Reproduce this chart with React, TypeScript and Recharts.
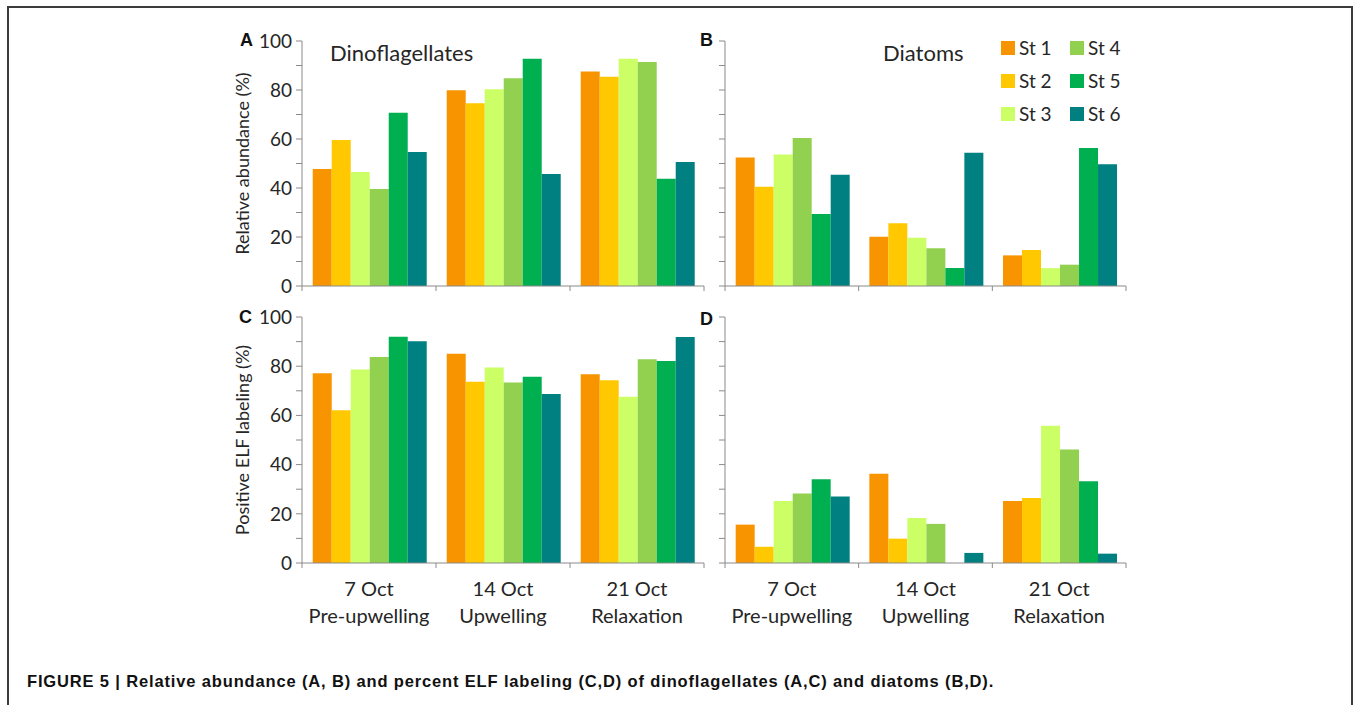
import React from "react";
import { BarChart, Bar, XAxis, YAxis, Legend, Label } from "recharts";

const DATES = ["7 Oct", "14 Oct", "21 Oct"];
const PHASES = ["Pre-upwelling", "Upwelling", "Relaxation"];
const STATIONS = ["St 1", "St 2", "St 3", "St 4", "St 5", "St 6"];
const STATION_COLORS = ["#F79400", "#FFC800", "#CCFF66", "#92D050", "#00B050", "#008080"];

// one row per date, one value per station (St 1..St 6)
const DINO_ABUNDANCE = [
  [47.8, 59.6, 46.5, 39.6, 70.7, 54.7],
  [79.9, 74.6, 80.3, 84.8, 92.8, 45.7],
  [87.6, 85.4, 92.8, 91.4, 43.8, 50.6],
];
const DIATOM_ABUNDANCE = [
  [52.5, 40.5, 53.7, 60.4, 29.4, 45.4],
  [20.1, 25.6, 19.7, 15.4, 7.3, 54.4],
  [12.5, 14.7, 7.3, 8.7, 56.3, 49.7],
];
const DINO_ELF = [
  [77.1, 62.1, 78.7, 83.7, 92.0, 90.1],
  [85.1, 73.7, 79.5, 73.4, 75.7, 68.7],
  [76.7, 74.3, 67.6, 82.8, 82.1, 91.9],
];
const DIATOM_ELF = [
  [15.6, 6.6, 25.2, 28.3, 34.0, 27.0],
  [36.3, 9.9, 18.3, 15.9, 0, 4.1],
  [25.2, 26.4, 55.8, 46.1, 33.2, 3.8],
];

const Y_TICKS = [0, 10, 20, 30, 40, 50, 60, 70, 80, 90, 100];

const FONT = "Lato, 'Open Sans', sans-serif";
const TEXT = "#262626";
const AXIS = "#8a8a8a";

function toRows(values: number[][]) {
  return DATES.map((d, i) => {
    const row: Record<string, any> = { date: d, phase: PHASES[i] };
    values[i].forEach((v, j) => (row[`s${j}`] = v));
    return row;
  });
}

// category tick: tick marks sit on the boundaries between dates (half a band either side)
function makeDateTick(showLabels: boolean) {
  return (props: any) => {
    const { x, y, payload, index, visibleTicksCount } = props;
    const half = payload.offset || 0;
    const i = payload.index ?? index;
    const last = index === visibleTicksCount - 1;
    return (
      <g>
        <line x1={x - half} y1={y - 5} x2={x - half} y2={y} stroke={AXIS} strokeWidth={1} />
        {last && <line x1={x + half} y1={y - 5} x2={x + half} y2={y} stroke={AXIS} strokeWidth={1} />}
        {showLabels && (
          <>
            <text x={x} y={y + 20} textAnchor="middle" dominantBaseline="central" fill={TEXT} fontSize={20} fontFamily={FONT}>
              {DATES[i]}
            </text>
            <text x={x} y={y + 47} textAnchor="middle" dominantBaseline="central" fill={TEXT} fontSize={20} fontFamily={FONT}>
              {PHASES[i]}
            </text>
          </>
        )}
      </g>
    );
  };
}

function StationLegend(props: any) {
  const items = props.payload || [];
  return (
    <div
      style={{
        display: "grid",
        gridTemplateRows: "repeat(3, 33px)",
        gridTemplateColumns: "69px 69px",
        gridAutoFlow: "column",
        fontFamily: FONT,
        fontSize: 19,
        color: TEXT,
      }}
    >
      {items.map((it: any) => (
        <div key={it.value} style={{ display: "flex", alignItems: "center" }}>
          <span style={{ display: "inline-block", width: 14, height: 14, background: it.color, marginRight: 4 }} />
          <span>{it.value}</span>
        </div>
      ))}
    </div>
  );
}

interface PanelProps {
  values: number[][];
  left: number;
  top: number;
  width: number;
  height: number;
  yWidth: number;
  plotWidth: number;
  xHeight: number;
  yLabels: boolean;
  xLabels: boolean;
  yTitle?: string;
  legend?: boolean;
}

function Panel(p: PanelProps) {
  const data = toRows(p.values);
  return (
    <div style={{ position: "absolute", left: p.left, top: p.top }}>
      <BarChart
        width={p.width}
        height={p.height}
        data={data}
        margin={{ top: 11, right: p.width - p.yWidth - p.plotWidth, left: 0, bottom: 0 }}
        barCategoryGap="8%"
        barGap={0}
      >
        <XAxis
          dataKey="date"
          height={p.xHeight}
          interval={0}
          tickSize={5}
          tickMargin={0}
          tickLine={false}
          stroke={AXIS}
          tick={makeDateTick(p.xLabels)}
        />
        <YAxis
          domain={[0, 100]}
          ticks={Y_TICKS}
          interval={0}
          width={p.yWidth}
          tickSize={6}
          tickMargin={4}
          stroke={AXIS}
          tick={{ fill: TEXT, fontSize: 19, fontFamily: FONT }}
          tickFormatter={(v: number) => (p.yLabels && v % 20 === 0 ? String(v) : "")}
        >
          {p.yTitle && (
            <Label
              value={p.yTitle}
              angle={-90}
              position="insideLeft"
              offset={15}
              style={{ textAnchor: "middle", fontSize: 18, fill: TEXT, fontFamily: FONT }}
            />
          )}
        </YAxis>
        {STATIONS.map((s, j) => (
          <Bar key={s} dataKey={`s${j}`} name={s} fill={STATION_COLORS[j]} isAnimationActive={false} />
        ))}
        {p.legend && (
          <Legend
            layout="horizontal"
            verticalAlign="middle"
            align="center"
            wrapperStyle={{ left: 301, top: 1, width: 150 }}
            content={StationLegend}
          />
        )}
      </BarChart>
    </div>
  );
}

const letterStyle: React.CSSProperties = {
  position: "absolute",
  fontFamily: "'Liberation Sans', Arial, sans-serif",
  fontWeight: "bold",
  fontSize: 18,
  color: "#111",
  lineHeight: 1,
};

const titleStyle: React.CSSProperties = {
  position: "absolute",
  fontFamily: FONT,
  fontSize: 22,
  color: TEXT,
  lineHeight: 1,
};

export default function App() {
  return (
    <div style={{ position: "absolute", left: 0, top: 0, width: 1360, height: 705, background: "#fff", overflow: "hidden" }}>
      <div
        style={{
          position: "absolute",
          left: 7,
          top: 6,
          width: 1346,
          height: 760,
          boxSizing: "border-box",
          border: "2px solid #3c3c3c",
        }}
      />
      <Panel values={DINO_ABUNDANCE} left={228} top={30} width={482} height={266} yWidth={74} plotWidth={402} xHeight={10} yLabels xLabels={false} yTitle="Relative abundance (%)" />
      <Panel values={DIATOM_ABUNDANCE} left={700} top={30} width={436} height={266} yWidth={25} plotWidth={401} xHeight={10} yLabels={false} xLabels={false} legend />
      <Panel values={DINO_ELF} left={228} top={306} width={482} height={330} yWidth={74} plotWidth={402} xHeight={73} yLabels xLabels yTitle="Positive ELF labeling (%)" />
      <Panel values={DIATOM_ELF} left={700} top={306} width={436} height={330} yWidth={25} plotWidth={401} xHeight={73} yLabels={false} xLabels />

      <div style={{ ...letterStyle, left: 240, top: 31 }}>A</div>
      <div style={{ ...letterStyle, left: 700, top: 31 }}>B</div>
      <div style={{ ...letterStyle, left: 239, top: 308 }}>C</div>
      <div style={{ ...letterStyle, left: 700, top: 310 }}>D</div>

      <div style={{ ...titleStyle, left: 330, top: 42 }}>Dinoflagellates</div>
      <div style={{ ...titleStyle, left: 883, top: 42 }}>Diatoms</div>

      <div
        style={{
          position: "absolute",
          left: 27,
          top: 673,
          fontFamily: "'Liberation Sans', Arial, sans-serif",
          fontWeight: "bold",
          fontSize: 16.5,
          letterSpacing: 0.85,
          color: "#111",
          whiteSpace: "nowrap",
          lineHeight: 1,
        }}
      >
        FIGURE 5 | Relative abundance (A, B) and percent ELF labeling (C,D) of dinoflagellates (A,C) and diatoms (B,D).
      </div>
    </div>
  );
}
